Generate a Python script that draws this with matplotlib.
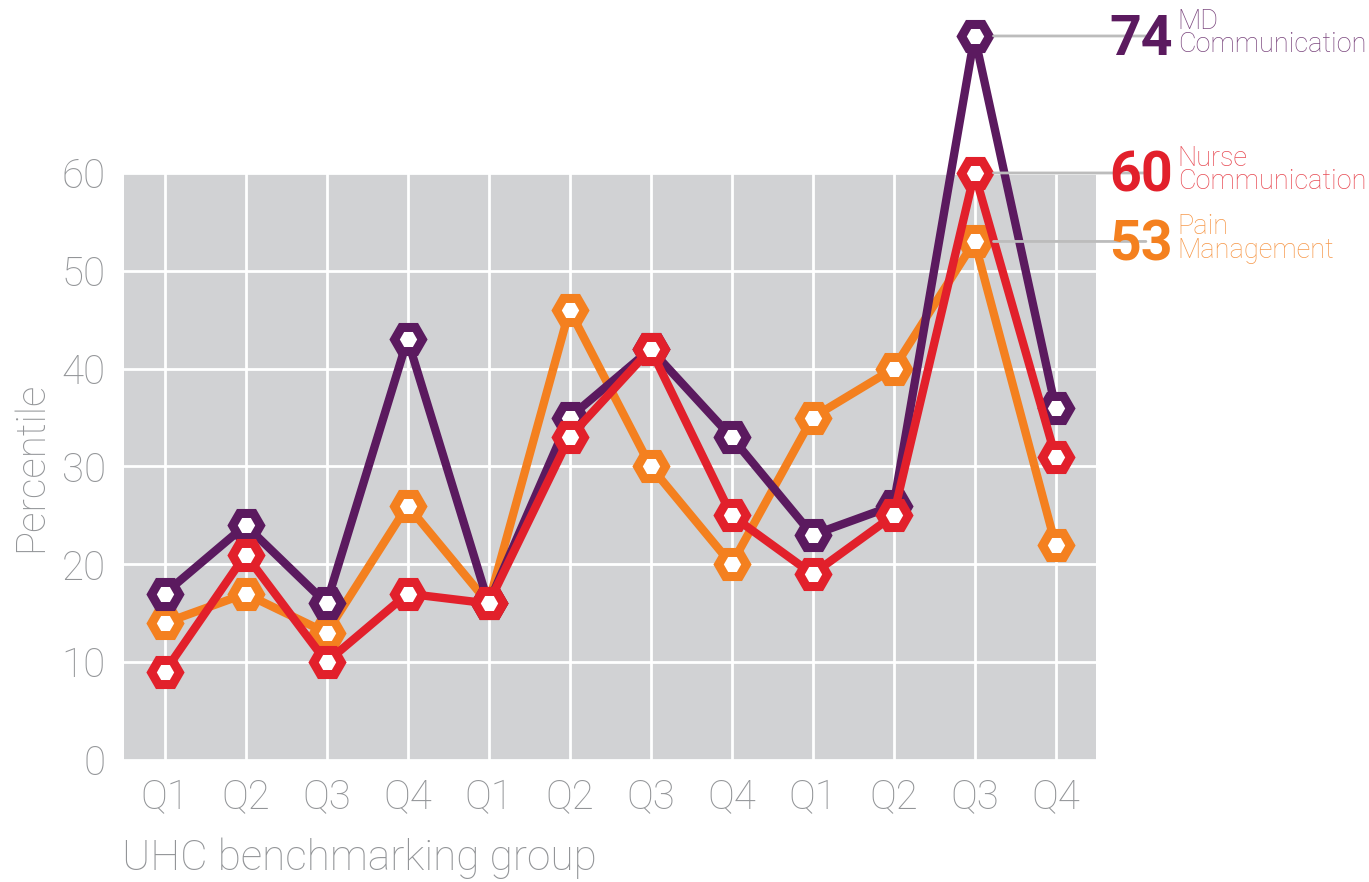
import matplotlib.pyplot as plt

quarters = ['Q1', 'Q2', 'Q3', 'Q4', 'Q1', 'Q2', 'Q3', 'Q4', 'Q1', 'Q2', 'Q3', 'Q4']
md_comm = [17, 24, 16, 43, 16, 35, 42, 33, 23, 26, 74, 36]
nurse_comm = [9, 21, 10, 17, 16, 33, 42, 25, 19, 25, 60, 31]
pain_mgmt = [14, 17, 13, 26, 16, 46, 30, 20, 35, 40, 53, 22]

purple = '#5b1a5f'
red = '#e2202b'
orange = '#f4801f'
grey_txt = '#939598'

plt.rcParams['font.family'] = ['Roboto', 'DejaVu Sans']

fig = plt.figure(figsize=(13.69, 8.82), dpi=100)
ax = fig.add_axes([0.0906, 0.1383, 0.71, 0.6656])
ax.set_facecolor('#d1d2d4')

x = list(range(len(quarters)))
series = [
    (pain_mgmt, orange, 'Pain\nManagement'),
    (md_comm, purple, 'MD\nCommunication'),
    (nurse_comm, red, 'Nurse\nCommunication'),
]
for vals, col, name in series:
    ax.plot(x, vals, color=col, lw=6, marker='H', ms=20, mew=6.5,
            mfc='white', mec=col, clip_on=False, zorder=3)

ax.set_xlim(-0.5, 11.5)
ax.set_ylim(0, 60)
ax.set_yticks(range(0, 70, 10))
ax.set_xticks(x)
ax.set_xticklabels(quarters)
ax.grid(True, color='white', lw=2)
ax.set_axisbelow(True)
for s in ax.spines.values():
    s.set_visible(False)
ax.tick_params(length=0, labelsize=29, labelcolor=grey_txt, pad=13)
for t in ax.get_xticklabels() + ax.get_yticklabels():
    t.set_fontweight('light')

ax.set_ylabel('Percentile', fontsize=29, color=grey_txt, fontweight='light', labelpad=8)
fig.text(0.089, 0.003, 'UHC benchmarking group', fontsize=30.5, color=grey_txt,
         fontweight='light', ha='left', va='bottom')

# end labels at the peak quarter
last = 10
for vals, col, name in series:
    v = vals[last]
    ax.annotate('', xy=(last + 0.2, v), xytext=(12.15, v), xycoords='data',
                arrowprops=dict(arrowstyle='-', color='#bcbcbc', lw=2), annotation_clip=False)
    ax.text(12.45, v - 0.4, str(v), fontsize=40, fontweight='bold', color=col,
            ha='right', va='center', clip_on=False)
    ax.text(12.51, v - 2.3, name, fontsize=19.5, fontweight='light', color=col,
            alpha=0.8, ha='left', va='bottom', linespacing=0.85, clip_on=False)

fig.savefig('out.png', dpi=100)
